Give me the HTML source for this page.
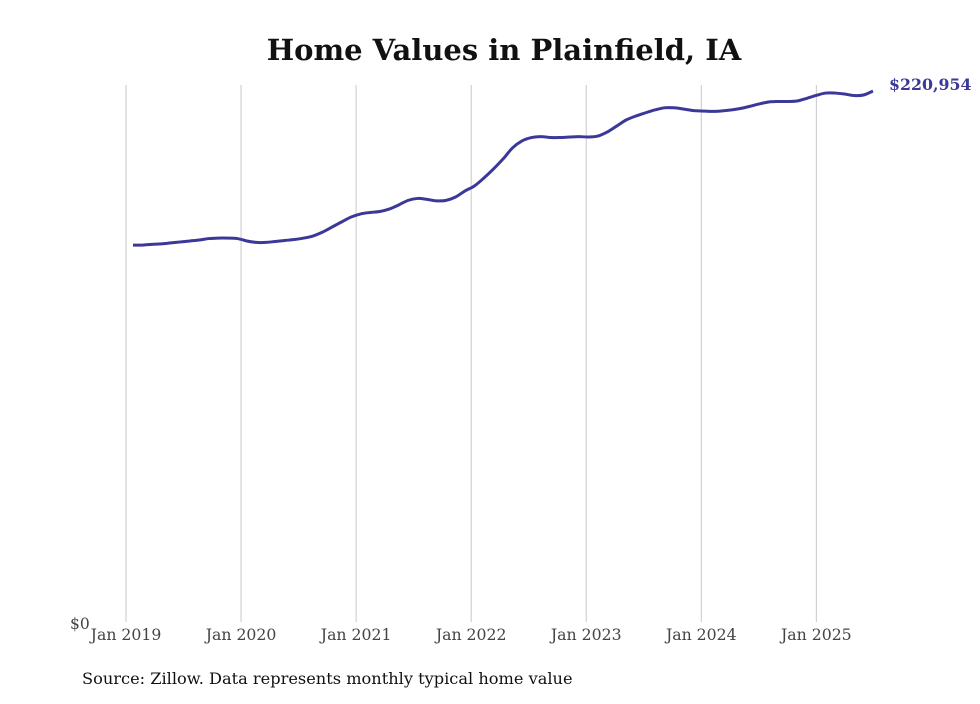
<!DOCTYPE html>
<html><head><meta charset="utf-8"><style>
body{margin:0;background:#fff;width:980px;height:699px;overflow:hidden}
svg text{font-family:"DejaVu Serif","Liberation Serif",serif}
</style></head><body>
<svg id="chart" width="980" height="699" xmlns="http://www.w3.org/2000/svg">
<text x="504" y="60" text-anchor="middle" font-size="29" font-weight="bold" fill="#111">Home Values in Plainfield, IA</text>
<g id="grid"></g><g id="xticks"></g>
<text x="70" y="629" font-size="15.5" fill="#444">$0</text>
<path id="line" fill="none" stroke="#3b3899" stroke-width="3"/>
<text id="endlabel" x="889" font-size="15.8" font-weight="bold" fill="#3b3899"></text>
<text x="82" y="684" font-size="16.2" fill="#111">Source: Zillow. Data represents monthly typical home value</text>
</svg>
<script>
const tickLabels=["Jan 2019","Jan 2020","Jan 2021","Jan 2022","Jan 2023","Jan 2024","Jan 2025"];
const startYear=2019;
const values=[
157.2,157.2,157.5,157.7,158.1,158.5,158.9,159.3,159.9,160.1,160.1,159.9,
158.9,158.3,158.3,158.7,159.1,159.5,160.1,161.0,162.6,164.7,166.8,168.8,
170.1,170.7,171.1,172.1,173.8,175.7,176.5,176.1,175.5,175.7,177.1,179.6,
181.7,185.0,188.7,192.8,197.4,200.3,201.7,202.1,201.7,201.7,201.9,202.1,
201.9,202.3,204.0,206.5,209.0,210.6,211.9,213.1,214.0,214.0,213.5,212.9,
212.7,212.5,212.7,213.1,213.7,214.6,215.6,216.4,216.6,216.6,216.8,217.9,
219.1,220.1,220.1,219.7,219.1,219.3,220.954];
const NS="http://www.w3.org/2000/svg";
const x=m=>133+m*9.487;
const gridX=m=>126+m*9.588;
const y=v=>625-v*1000*534/220954;
const grid=document.getElementById('grid'),xt=document.getElementById('xticks');
tickLabels.forEach((t,i)=>{
 const gx=gridX(i*12);
 const l=document.createElementNS(NS,'line');
 
 
 l.setAttribute('x1',gx);l.setAttribute('x2',gx);l.setAttribute('y1',85);l.setAttribute('y2',622);
 l.setAttribute('stroke','#c8c8c8');l.setAttribute('stroke-width','1');
 grid.appendChild(l);
 const tx=document.createElementNS(NS,'text');
 
 
 tx.setAttribute('x',gx);tx.setAttribute('y',640);tx.setAttribute('text-anchor','middle');
 tx.setAttribute('font-size','15.7');tx.setAttribute('fill','#444');tx.textContent=t;
 xt.appendChild(tx);
});
const pts=values.map((v,i)=>[x(i),y(v)]);
let d='M'+pts[0][0]+','+pts[0][1];
for(let i=0;i<pts.length-1;i++){
 const p0=pts[i-1]||pts[i],p1=pts[i],p2=pts[i+1],p3=pts[i+2]||p2;
 const c1=[p1[0]+(p2[0]-p0[0])/6,p1[1]+(p2[1]-p0[1])/6];
 const c2=[p2[0]-(p3[0]-p1[0])/6,p2[1]-(p3[1]-p1[1])/6];
 d+=`C${c1[0]},${c1[1]} ${c2[0]},${c2[1]} ${p2[0]},${p2[1]}`;
}
document.getElementById('line').setAttribute('d',d);
const last=values[values.length-1];
const el=document.getElementById('endlabel');
el.setAttribute('y',y(last)-1);
el.textContent='$'+Math.round(last*1000).toLocaleString('en-US');
</script>
</body></html>
